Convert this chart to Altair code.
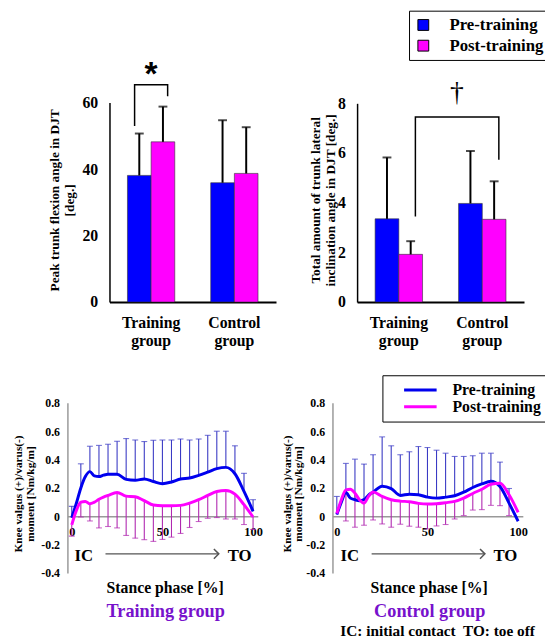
import altair as alt
import pandas as pd

# ---------------- data ----------------
groups = ["Training group", "Control group"]
periods = ["Pre-training", "Post-training"]
bar_colors = ["#0000FF", "#FF00FF"]
line_colors = ["#0000EE", "#FF00FF"]

# Peak trunk flexion angle (mean, top of SD bar)
flex_mean_pre = [38.1, 35.9]
flex_top_pre = [50.7, 54.7]
flex_mean_post = [48.2, 38.7]
flex_top_post = [58.8, 52.6]

# Total trunk lateral inclination angle (mean, top of SD bar)
lat_mean_pre = [3.35, 3.97]
lat_top_pre = [5.82, 6.08]
lat_mean_post = [1.92, 3.33]
lat_top_post = [2.45, 4.86]

# significance brackets
flex_br_group = ["Training group"] * 4
flex_br_period = ["Pre-training", "Pre-training", "Post-training", "Post-training"]
flex_br_value = [53.0, 65.4, 65.4, 61.9]
flex_mark_value = [65.3]
lat_br_group = ["Training group", "Training group", "Control group", "Control group"]
lat_br_period = ["Post-training"] * 4
lat_br_value = [3.44, 7.45, 7.45, 5.73]
lat_mark_value = [8.1]

# knee valgus/varus moment curves
phase = [0, 2.5, 5, 7.5, 10, 12.5, 15, 17.5, 20, 25, 30, 35, 40, 45, 50, 55, 60,
         65, 70, 75, 80, 85, 90, 95, 100]
tr_pre = [-0.01, 0.09, 0.20, 0.28, 0.315, 0.285, 0.28, 0.29, 0.296, 0.296, 0.26, 0.254,
          0.263, 0.245, 0.23, 0.242, 0.263, 0.27, 0.289, 0.312, 0.336, 0.345, 0.30, 0.175, 0.035]
tr_post = [-0.06, 0.04, 0.10, 0.105, 0.088, 0.10, 0.12, 0.135, 0.147, 0.168, 0.142, 0.138,
           0.11, 0.08, 0.075, 0.075, 0.077, 0.093, 0.117, 0.147, 0.175, 0.182, 0.156, 0.082, -0.005]
ct_pre = [0.012, 0.10, 0.168, 0.128, 0.117, 0.11, 0.117, 0.15, 0.17, 0.212, 0.195, 0.147,
          0.156, 0.152, 0.135, 0.128, 0.135, 0.145, 0.17, 0.203, 0.228, 0.247, 0.21, 0.093, -0.035]
ct_post = [0.02, 0.117, 0.186, 0.19, 0.163, 0.117, 0.093, 0.14, 0.172, 0.14, 0.117, 0.107,
           0.103, 0.091, 0.086, 0.089, 0.096, 0.105, 0.128, 0.161, 0.191, 0.226, 0.233, 0.152, 0.028]

err_phase = [0, 5, 10, 15, 20, 25, 30, 35, 40, 45, 50, 55, 60, 65, 70, 75, 80, 85, 90, 95, 100]
tr_pre_end = [0.07, 0.37, 0.494, 0.50, 0.508, 0.529, 0.548, 0.538, 0.527, 0.536, 0.538, 0.538,
              0.545, 0.538, 0.545, 0.571, 0.60, 0.60, 0.497, 0.303, 0.117]
tr_post_end = [-0.14, -0.005, -0.033, -0.082, -0.072, -0.082, -0.135, -0.154, -0.165, -0.177,
               -0.163, -0.147, -0.121, -0.079, -0.037, -0.014, -0.009, -0.019, -0.019, -0.058, -0.093]
ct_pre_end = [0.14, 0.373, 0.403, 0.368, 0.434, 0.56, 0.497, 0.434, 0.455, 0.492, 0.485, 0.466,
              0.445, 0.422, 0.422, 0.427, 0.445, 0.445, 0.382, 0.196, None]
ct_post_end = [None, -0.033, -0.077, -0.063, -0.026, -0.054, -0.077, -0.056, -0.07, -0.077,
               -0.089, -0.068, -0.058, -0.019, 0.005, 0.044, 0.047, 0.077, 0.075, 0.005, None]

ic_to_labels = ["IC", "TO"]
tr_ic_to_phase = [6.7, 92.6]
tr_arrow = [18.6, 81.1]
ct_ic_to_phase = [7.2, 93.0]
ct_arrow = [19.2, 81.7]
ic_to_level = -0.28

# ---------------- layout ----------------
W, H = 545, 635
M = 8
FONT = "Liberation Serif"


def c(v):
    return v - M


layers = []


# ---------- bar panels ----------
def bar_panel(mean_pre, top_pre, mean_post, top_post, br_g, br_p, br_v, mark_v,
              mark_txt, xr_page, y0_page, y1_page, ydom, yvals, ytitle, title_x_page,
              legend, mark_cfg):
    xr = [c(xr_page[0]), c(xr_page[1])]
    yr = [c(y0_page), c(y1_page)]
    xs = alt.Scale(domain=groups, range=xr, paddingInner=0, paddingOuter=0)
    xos = alt.Scale(domain=periods, paddingInner=0, paddingOuter=0.76)
    ys = alt.Scale(domain=ydom, range=yr, nice=False, zero=False)

    xaxis = alt.Axis(orient="bottom", offset=c(y0_page) - H, title=None, ticks=False,
                     grid=False, domainColor="black", domainWidth=2, labelFont=FONT,
                     labelFontWeight="bold", labelFontSize=16, labelColor="black",
                     labelPadding=13, labelAngle=0, labelLineHeight=18,
                     labelExpr="split(datum.label, ' ')")
    yaxis = alt.Axis(orient="left", offset=-xr[0], values=yvals, ticks=False, grid=False,
                     domainColor="black", domainWidth=1.5, labelFont=FONT,
                     labelFontWeight="bold", labelFontSize=16, labelColor="black",
                     labelPadding=12, title=ytitle, titleX=c(title_x_page) - xr[0],
                     titleY=c(198), titleFont=FONT, titleFontWeight="bold",
                     titleFontSize=13.5, titleAngle=270, titleBaseline="middle",
                     titleAlign="center", titleLineHeight=15, titleColor="black")

    df = pd.DataFrame({
        "group": groups * 2,
        "period": [periods[0]] * 2 + [periods[1]] * 2,
        "value": mean_pre + mean_post,
        "top": top_pre + top_post,
    })
    X = lambda ax=None: alt.X("group:N", scale=xs, axis=ax)
    XO = alt.XOffset("period:N", scale=xos)
    Y = lambda f, ax=None: alt.Y(f, scale=ys, axis=ax)

    bars = alt.Chart(df).mark_bar(stroke="#333333", strokeWidth=0.6).encode(
        x=X(xaxis), xOffset=XO, y=Y("value:Q", yaxis),
        color=alt.Color("period:N", scale=alt.Scale(domain=periods, range=bar_colors),
                        legend=legend))
    err = alt.Chart(df).mark_rule(color="black", strokeWidth=2).encode(
        x=X(), xOffset=XO, y=Y("value:Q"), y2="top:Q")
    caps = alt.Chart(df).mark_tick(color="black", thickness=2, size=9,
                                   orient="horizontal").encode(
        x=X(), xOffset=XO, y=Y("top:Q"))
    bdf = pd.DataFrame({"group": br_g, "period": br_p, "v": br_v, "o": [0, 1, 2, 3]})
    br = alt.Chart(bdf).mark_line(color="black", strokeWidth=1.5).encode(
        x=X(), xOffset=XO, y=Y("v:Q"), order="o:Q")
    mdf = pd.DataFrame({"group": [mark_cfg["group"]], "period": [mark_cfg["period"]],
                        "v": mark_v, "t": [mark_txt]})
    enc = dict(x=X(), y=Y("v:Q"), text="t:N")
    if mark_cfg["use_offset"]:
        enc["xOffset"] = XO
    mk = alt.Chart(mdf).mark_text(font=mark_cfg["font"], fontWeight=mark_cfg["weight"],
                                  fontSize=mark_cfg["size"], baseline="alphabetic",
                                  dx=mark_cfg["dx"], color="black").encode(**enc)
    return [bars, err, caps, br, mk]


bar_legend = alt.Legend(title=None, orient="none", legendX=c(415), legendY=c(6),
                        symbolType="square", symbolSize=121, symbolStrokeColor="black",
                        symbolStrokeWidth=1, labelFont=FONT, labelFontWeight="bold",
                        labelFontSize=17, labelColor="black", labelOffset=18, padding=6,
                        rowPadding=3, strokeColor="black", fillColor="white")

layers += bar_panel(flex_mean_pre, flex_top_pre, flex_mean_post, flex_top_post,
                    flex_br_group, flex_br_period, flex_br_value, flex_mark_value, "*",
                    [111, 280], 301.7, 99.3, [0, 60], [0, 20, 40, 60],
                    ["Peak trunk flexion angle in DJT", "[deg.]"], 55, None,
                    dict(group="Training group", period="Pre-training", use_offset=False,
                         font="Liberation Sans", weight="bold", size=34, dx=0))
layers += bar_panel(lat_mean_pre, lat_top_pre, lat_mean_post, lat_top_post,
                    lat_br_group, lat_br_period, lat_br_value, lat_mark_value, "\u2020",
                    [362.3, 531.7], 301.7, 100, [0, 8], [0, 2, 4, 6, 8],
                    ["Total amount of trunk lateral", "inclination angle in DJT [deg.]"],
                    320, bar_legend,
                    dict(group="Training group", period="Post-training", use_offset=True,
                         font=FONT, weight="normal", size=28, dx=42))


# ---------- line panels ----------
def line_panel(pre, post, pre_end, post_end, x_axis_page, ic_phase, arrow, title_x_page,
               xtitle_page, legend):
    xdom = [-2.4, 102.6]
    k = 1.84
    zero_x_page = x_axis_page + 2.4 * k
    xr = [c(x_axis_page), c(zero_x_page + 102.6 * k)]
    yr = [c(576.7), c(404)]
    yzero = yr[0] + (yr[1] - yr[0]) * (0.4 / 1.2)
    xs = alt.Scale(domain=xdom, range=xr, nice=False, zero=False)
    ys = alt.Scale(domain=[-0.4, 0.8], range=yr, nice=False, zero=False)

    xaxis = alt.Axis(orient="bottom", offset=yzero - H, values=[0, 50, 100], ticks=False,
                     grid=False, domainColor="#999999", domainWidth=1.5, labelFont=FONT,
                     labelFontWeight="bold", labelFontSize=12.5, labelColor="black",
                     labelPadding=10, labelFlush=False, labelAngle=0,
                     title="Stance phase [%]", titleX=c(xtitle_page), titleY=591 - (yzero + M),
                     titleFont=FONT, titleFontWeight="bold", titleFontSize=16,
                     titleBaseline="middle", titleAlign="center", titleAngle=0,
                     titleColor="black")
    yaxis = alt.Axis(orient="left", offset=-xr[0], values=[-0.4, -0.2, 0, 0.2, 0.4, 0.6, 0.8],
                     ticks=False, grid=False, domainColor="#999999", domainWidth=1.5,
                     labelFont=FONT, labelFontWeight="bold", labelFontSize=12,
                     labelColor="black", labelPadding=8,
                     labelExpr="datum.value == 0 ? '0' : (datum.value < 0 ? '-' + format(-datum.value, '.1f') : format(datum.value, '.1f'))",
                     title=["Knee valgus (+)/varus(-)", "moment [Nm/kg/m]"],
                     titleX=c(title_x_page) - xr[0], titleY=c(496), titleFont=FONT,
                     titleFontWeight="bold", titleFontSize=11.5, titleAngle=270,
                     titleBaseline="middle", titleAlign="center", titleLineHeight=11.5,
                     titleColor="black")

    X = lambda f, ax=None: alt.X(f, scale=xs, axis=ax)
    Y = lambda f, ax=None: alt.Y(f, scale=ys, axis=ax)

    ldf = pd.DataFrame({
        "phase": phase * 2,
        "value": pre + post,
        "period": [periods[0]] * len(phase) + [periods[1]] * len(phase),
    })

    def edf(means, ends):
        m = dict(zip(phase, means))
        rows = [dict(phase=p, mean=m[p], end=e) for p, e in zip(err_phase, ends) if e is not None]
        return pd.DataFrame(rows)

    out = []
    for means, ends, col in [(pre, pre_end, "#3A3AC4"), (post, post_end, "#B028B0")]:
        d = edf(means, ends)
        out.append(alt.Chart(d).mark_rule(color=col, strokeWidth=1.1).encode(
            x=X("phase:Q"), y=Y("mean:Q"), y2="end:Q"))
        out.append(alt.Chart(d).mark_tick(color=col, thickness=1.1, size=6,
                                          orient="horizontal").encode(
            x=X("phase:Q"), y=Y("end:Q")))
    out.append(alt.Chart(ldf).mark_line(interpolate="monotone", strokeWidth=3).encode(
        x=X("phase:Q", xaxis), y=Y("value:Q", yaxis),
        color=alt.Color("period:N", scale=alt.Scale(domain=periods, range=line_colors),
                        legend=legend)))
    tdf = pd.DataFrame({"phase": ic_phase, "v": [ic_to_level] * 2, "t": ic_to_labels})
    out.append(alt.Chart(tdf).mark_text(font=FONT, fontWeight="bold", fontSize=17,
                                        baseline="middle", color="black").encode(
        x=X("phase:Q"), y=Y("v:Q"), text="t:N"))
    adf = pd.DataFrame({"a": [arrow[0]], "b": [arrow[1]], "v": [ic_to_level + 0.015]})
    out.append(alt.Chart(adf).mark_rule(color="#555555", strokeWidth=1.5).encode(
        x=X("a:Q"), x2="b:Q", y=Y("v:Q")))
    out.append(alt.Chart(adf).mark_point(shape="M-1,-1L0,0L-1,1", size=100, filled=False,
                                         color="#555555", strokeWidth=1.5,
                                         opacity=1).encode(
        x=X("b:Q"), y=Y("v:Q")))
    return out


line_legend = alt.Legend(title=None, orient="none", legendX=c(388), legendY=c(376),
                         symbolType="M-3.3,0H3.3", symbolSize=100, symbolStrokeWidth=3,
                         symbolOffset=23.5, labelOffset=24.5, labelFont=FONT,
                         labelFontWeight="bold", labelFontSize=16, labelColor="black",
                         padding=7, rowPadding=1, strokeColor="black", fillColor="white")

layers += line_panel(tr_pre, tr_post, tr_pre_end, tr_post_end, 68.3, tr_ic_to_phase,
                     tr_arrow, 19, 167, None)
layers += line_panel(ct_pre, ct_post, ct_pre_end, ct_post_end, 337.3, ct_ic_to_phase,
                     ct_arrow, 291.5, 435, line_legend)

# ---------- free texts ----------
group_titles = ["Training group", "Control group"]
group_title_x = [168, 436]
for t, xp in zip(group_titles, group_title_x):
    layers.append(alt.Chart(pd.DataFrame({"t": [t]})).mark_text(
        font=FONT, fontWeight="bold", fontSize=18.5, color="#7711CC", baseline="middle",
        align="center").encode(text="t:N", x=alt.value(c(xp)), y=alt.value(c(615))))

footnote = ["IC: initial contact\u00a0 TO: toe off"]
layers.append(alt.Chart(pd.DataFrame({"t": footnote})).mark_text(
    font=FONT, fontWeight="bold", fontSize=15.5, color="black", baseline="middle",
    align="center").encode(text="t:N", x=alt.value(c(444)), y=alt.value(c(636))))

chart = alt.layer(*layers).resolve_scale(
    x="independent", y="independent", color="independent", xOffset="independent"
).resolve_axis(x="independent", y="independent").resolve_legend(
    color="independent"
).properties(
    width=W, height=H, autosize=alt.AutoSizeParams(type="none"), padding=0
).configure_view(stroke="transparent")

chart.save("out.html", embed_options={"renderer": "svg", "actions": False})
